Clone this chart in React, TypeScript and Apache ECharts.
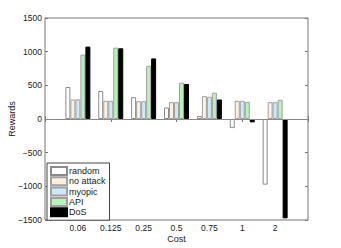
import React, { useEffect, useRef } from "react";
import * as echarts from "echarts";

const categories = ["", "0.06", "0.125", "0.25", "0.5", "0.75", "1", "2", ""];
const seriesNames = ["random", "no attack", "myopic", "API", "DoS"];
const randomVals = [null, 475, 415, 325, 170, 45, -135, -975, null];
const noAttackVals = [null, 290, 270, 265, 250, 340, 270, 250, null];
const myopicVals = [null, 292, 270, 265, 250, 330, 270, 250, null];
const apiVals = [null, 955, 1060, 790, 540, 390, 255, 285, null];
const dosVals = [null, 1075, 1050, 900, 520, 290, -50, -1475, null];
const yTicks = { min: -1500, max: 1500, interval: 500 };

const fills = ["#ffffff", "#fdf0dc", "#cce8fa", "#b8f2b8", "#000000"];
const borders = ["#8a8a8a", "#a0a0a0", "#a0a0a0", "#a0a0a0", "#000000"];

export default function App() {
  const ref = useRef<HTMLDivElement>(null);
  useEffect(() => {
    if (!ref.current) return;
    const chart = echarts.init(ref.current, undefined, { renderer: "svg" });
    const allData = [randomVals, noAttackVals, myopicVals, apiVals, dosVals];
    const font = "Liberation Sans, Arial, sans-serif";
    const series: any[] = allData.map((d, i) => ({
      name: seriesNames[i],
      type: "bar",
      data: d,
      barWidth: 5,
      barGap: "0%",
      xAxisIndex: 0,
      yAxisIndex: 0,
      itemStyle: { color: fills[i], borderColor: borders[i], borderWidth: 1 },
    }));
    series[0].markLine = {
      silent: true,
      symbol: "none",
      animation: false,
      label: { show: false },
      lineStyle: { color: "#8a8a8a", type: "solid", width: 1 },
      data: [{ yAxis: 0 }],
    };
    chart.setOption({
      animation: false,
      textStyle: { fontFamily: font },
      grid: {
        left: 45,
        right: 33,
        top: 18,
        bottom: 28,
        outerBoundsMode: "none",
        containLabel: false,
        show: true,
        borderColor: "#777",
        borderWidth: 1,
        backgroundColor: "#fff",
      },
      legend: {
        orient: "vertical",
        left: 47,
        top: 163,
        data: seriesNames,
        icon: "rect",
        itemWidth: 16,
        itemHeight: 8,
        itemGap: 0.3,
        padding: [3, 4, 3, 3],
        backgroundColor: "#fff",
        borderColor: "#444",
        borderWidth: 1,
        textStyle: { fontSize: 9, color: "#222", fontFamily: font, padding: [0, 0, 0, -3], lineHeight: 9 },
      },
      xAxis: [
        {
          type: "category",
          data: categories,
          boundaryGap: false,
          position: "bottom",
          name: "Cost",
          nameLocation: "middle",
          nameGap: 14,
          nameMoveOverlap: false,
          nameTextStyle: { fontSize: 9, color: "#222", fontFamily: font },
          axisLine: { show: false },
          axisTick: { show: true, inside: true, length: 3, lineStyle: { color: "#777" } },
          axisLabel: { fontSize: 8.5, color: "#222", margin: 3, interval: 0, fontFamily: font },
          splitLine: { show: false },
        },
        {
          type: "category",
          data: categories,
          boundaryGap: false,
          position: "top",
          axisLine: { show: false },
          axisTick: { show: true, inside: true, length: 3, lineStyle: { color: "#777" } },
          axisLabel: { show: false },
          splitLine: { show: false },
        },
      ],
      yAxis: [
        {
          type: "value",
          min: yTicks.min,
          max: yTicks.max,
          interval: yTicks.interval,
          name: "Rewards",
          nameLocation: "middle",
          nameGap: 29,
          nameMoveOverlap: false,
          nameTextStyle: { fontSize: 9, color: "#222", fontFamily: font },
          axisLine: { show: false },
          axisTick: { show: true, inside: true, length: 3, lineStyle: { color: "#777" } },
          axisLabel: {
            fontSize: 8.5,
            color: "#222",
            margin: 3,
            fontFamily: font,
            formatter: (v: number) => (v < 0 ? "\u2212" + Math.abs(v) : String(v)),
          },
          splitLine: { show: false },
        },
        {
          type: "value",
          min: yTicks.min,
          max: yTicks.max,
          interval: yTicks.interval,
          position: "right",
          axisLine: { show: false },
          axisTick: { show: true, inside: true, length: 3, lineStyle: { color: "#777" } },
          axisLabel: { show: false },
          splitLine: { show: false },
        },
      ],
      series,
    });
    return () => chart.dispose();
  }, []);
  return <div ref={ref} style={{ width: 341, height: 248, position: "absolute", left: 0, top: 0 }} />;
}
